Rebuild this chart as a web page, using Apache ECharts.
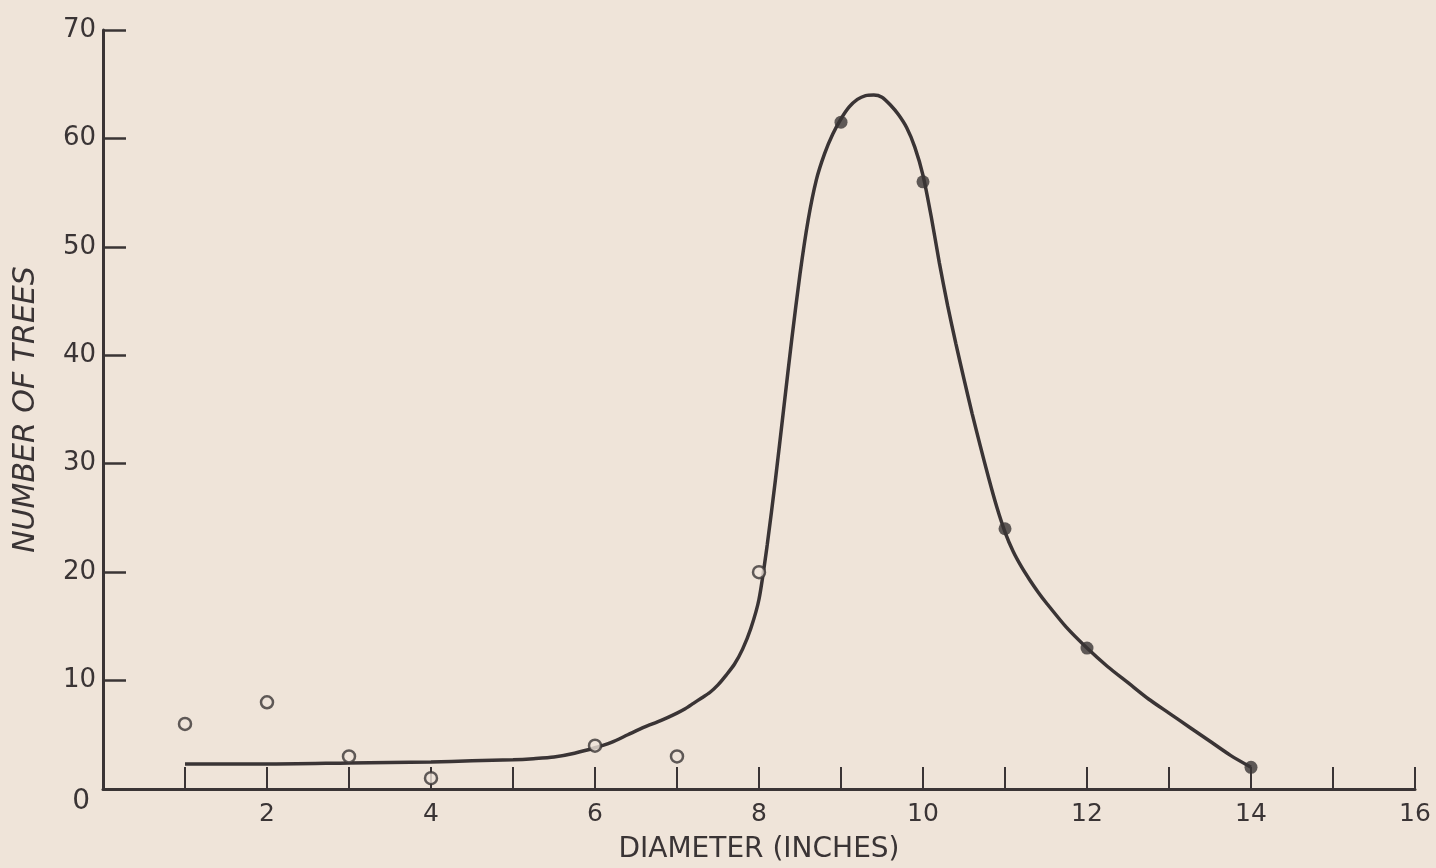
<!DOCTYPE html>
<html>
<head>
<meta charset="utf-8">
<script src="https://cdn.jsdelivr.net/npm/echarts@6/dist/echarts.min.js"></script>
<style>
  html, body { margin: 0; padding: 0; background: #efe4d9; }
  #chart { width: 1436px; height: 868px; }
</style>
</head>
<body>
<div id="chart"></div>
<script>
// open circles (observed, not on fitted curve)
const openX = [1, 2, 3, 4, 6, 7, 8]
const openY = [6, 8, 3, 1, 4, 3, 20]

// solid dots
const solidX = [9, 10, 11, 12, 14]
const solidY = [61.5, 56, 24, 13, 2]

// hand-drawn curve (denser where it bends)
const curveX = [
  1, 2, 3, 4, 4.5, 5, 5.25, 5.5, 5.75, 6, 6.2, 6.4, 6.6, 6.8, 7,
  7.1, 7.2, 7.3, 7.4, 7.5, 7.6, 7.7, 7.8, 7.9, 8, 8.1, 8.2, 8.3, 8.4, 8.5,
  8.6, 8.7, 8.8, 8.9, 9, 9.1, 9.2, 9.3, 9.4, 9.5, 9.6, 9.7, 9.8, 9.9, 10,
  10.1, 10.2, 10.3, 10.4, 10.5, 10.6, 10.7, 10.8, 10.9, 11, 11.1, 11.2, 11.3, 11.4, 11.5,
  11.75, 12, 12.25, 12.5, 12.75, 13, 13.25, 13.5, 13.75, 14
]
const curveY = [
  2.3, 2.3, 2.4, 2.5, 2.6, 2.7, 2.8, 2.95, 3.3, 3.8, 4.3, 5.0, 5.7, 6.3, 7.0,
  7.4, 7.9, 8.4, 8.9, 9.6, 10.5, 11.5, 12.9, 14.8, 17.5, 22.5, 28.5, 35.0, 41.5, 47.5,
  52.5, 56.2, 58.6, 60.4, 61.8, 62.9, 63.6, 63.95, 64.0, 63.8, 63.1, 62.2, 61.0, 59.2, 56.6,
  52.8, 48.5, 44.6, 41.1, 37.8, 34.6, 31.6, 28.7, 26.0, 23.7, 21.9, 20.5, 19.3, 18.2, 17.2,
  14.9, 13.0, 11.3, 9.8, 8.3, 7.0, 5.7, 4.4, 3.1, 2.0
]

const ink = '#3a3435'
const paper = '#efe4d9'
const font = 'DejaVu Sans'

const chart = echarts.init(document.getElementById('chart'))

const option = {
  backgroundColor: paper,
  animation: false,
  grid: {
    left: 103,
    right: 21,
    top: 30,
    bottom: 79,
    outerBoundsMode: 'none'
  },
  xAxis: {
    type: 'value',
    min: 0,
    max: 16,
    interval: 1,
    name: 'DIAMETER (INCHES)',
    nameLocation: 'middle',
    nameGap: 47,
    nameTextStyle: { fontFamily: font, fontSize: 28, color: ink },
    splitLine: { show: false },
    axisLine: { lineStyle: { color: ink, width: 3 } },
    axisTick: { inside: true, length: 22, lineStyle: { color: ink, width: 2 } },
    axisLabel: {
      margin: 13,
      fontFamily: font,
      fontSize: 25,
      color: ink,
      formatter: v => (v % 2 === 0 && v !== 0 ? String(v) : '')
    }
  },
  yAxis: {
    type: 'value',
    min: 0,
    max: 70,
    interval: 10,
    name: 'NUMBER OF TREES',
    nameLocation: 'middle',
    nameGap: 62,
    nameTextStyle: { fontFamily: font, fontSize: 30, fontStyle: 'italic', color: ink },
    splitLine: { show: false },
    axisLine: { lineStyle: { color: ink, width: 3 } },
    axisTick: { inside: true, length: 23, lineStyle: { color: ink, width: 2.5 } },
    axisLabel: {
      margin: 7,
      fontFamily: font,
      fontSize: 26,
      color: ink,
      formatter: v => (v === 0 ? '{z|0}' : String(v)),
      rich: {
        z: { fontFamily: font, fontSize: 28, color: ink, padding: [26, 6, 0, 0] }
      }
    }
  },
  series: [
    {
      name: 'curve',
      type: 'line',
      data: curveX.map((x, i) => [x, curveY[i]]),
      smooth: 0.25,
      showSymbol: false,
      lineStyle: { color: ink, width: 3.5 },
      z: 2
    },
    {
      name: 'open',
      type: 'scatter',
      data: openX.map((x, i) => [x, openY[i]]),
      symbol: 'circle',
      symbolSize: 12,
      itemStyle: { color: paper, borderColor: ink, borderWidth: 2.5 },
      z: 3
    },
    {
      name: 'solid',
      type: 'scatter',
      data: solidX.map((x, i) => [x, solidY[i]]),
      symbol: 'circle',
      symbolSize: 13,
      itemStyle: { color: ink },
      z: 3
    }
  ]
}

chart.setOption(option)
</script>
</body>
</html>
